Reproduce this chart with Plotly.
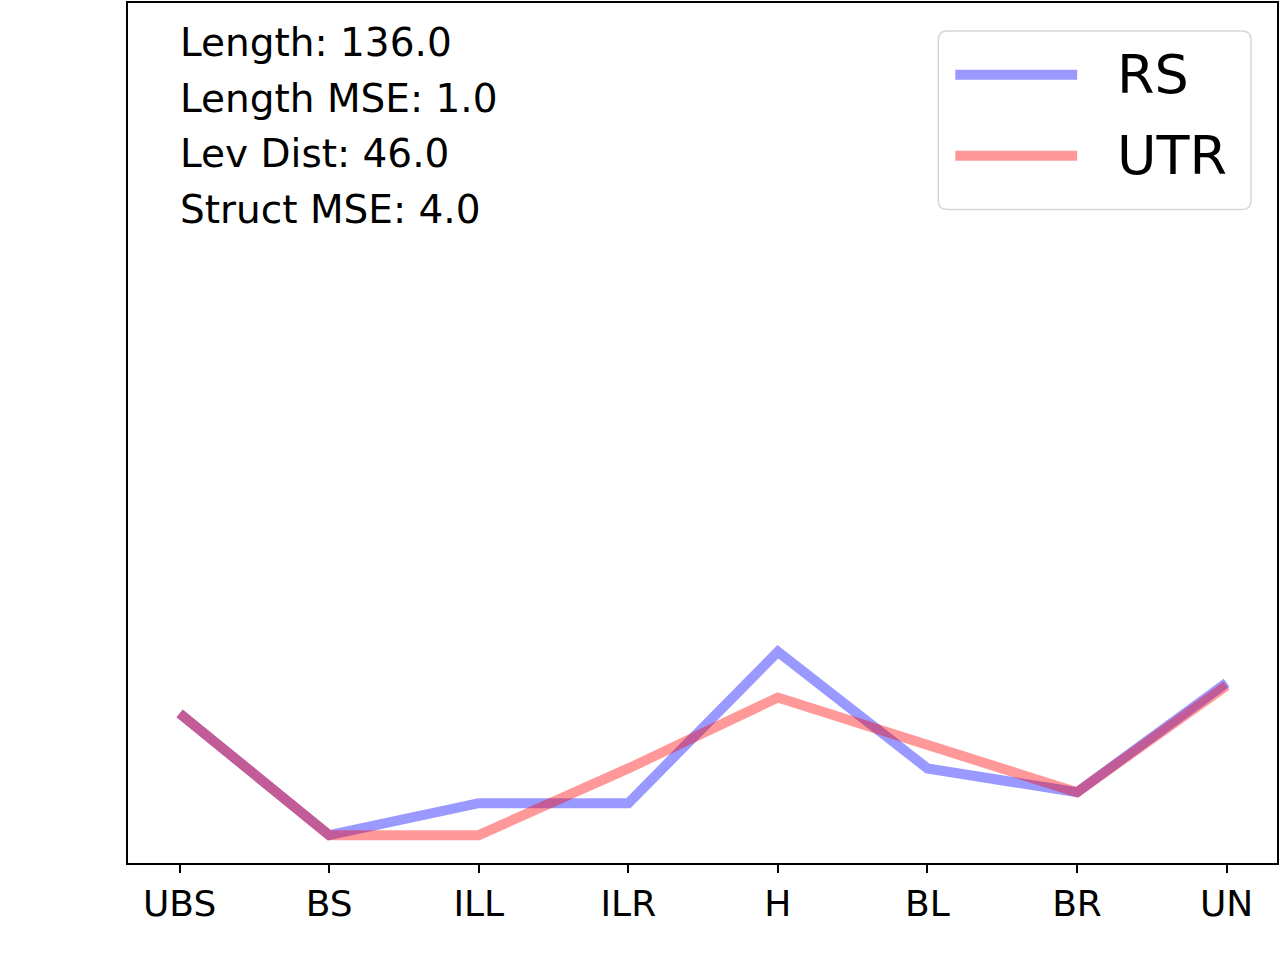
import plotly.graph_objects as go

categories = ["UBS", "BS", "ILL", "ILR", "H", "BL", "BR", "UN"]
rs_values = [0.174, 0.0324, 0.0695, 0.0695, 0.2457, 0.110, 0.0823, 0.2097]
utr_values = [0.174, 0.0324, 0.0324, 0.110, 0.1924, 0.1367, 0.0823, 0.2063]
series_names = ["RS", "UTR"]
stats_lines = ["Length: 136.0", "Length MSE: 1.0", "Lev Dist: 46.0", "Struct MSE: 4.0"]

W, H = 1280, 960
ML, MR, MT, MB = 128, 2, 1, 97
PW, PH = W - ML - MR, H - MT - MB

def px(x):
    return (x - ML) / PW

def py(y):
    return (H - MB - y) / PH

FONT = "DejaVu Sans"
blue = "rgba(0,0,255,0.4)"
red = "rgba(255,0,0,0.4)"

fig = go.Figure()
fig.add_trace(go.Scatter(x=categories, y=rs_values, mode="lines", name=series_names[0],
                         line=dict(color=blue, width=10), showlegend=False))
fig.add_trace(go.Scatter(x=categories, y=utr_values, mode="lines", name=series_names[1],
                         line=dict(color=red, width=10), showlegend=False))

# stats text
for i, t in enumerate(stats_lines):
    fig.add_annotation(x=px(178), y=py(41 + i * 55.5), xref="paper", yref="paper",
                       text=t, showarrow=False, xanchor="left", yanchor="middle",
                       font=dict(family=FONT, size=39, color="black"))

# legend box (rounded)
x0, x1, y0, y1, r = 939, 1252, 29, 208, 9
path = (f"M{px(x0 + r)},{py(y0)} L{px(x1 - r)},{py(y0)} "
        f"Q{px(x1)},{py(y0)} {px(x1)},{py(y0 + r)} "
        f"L{px(x1)},{py(y1 - r)} Q{px(x1)},{py(y1)} {px(x1 - r)},{py(y1)} "
        f"L{px(x0 + r)},{py(y1)} Q{px(x0)},{py(y1)} {px(x0)},{py(y1 - r)} "
        f"L{px(x0)},{py(y0 + r)} Q{px(x0)},{py(y0)} {px(x0 + r)},{py(y0)} Z")
fig.add_shape(type="path", path=path, xref="paper", yref="paper",
              line=dict(color="#d6d6d6", width=1.5), fillcolor="rgba(255,255,255,0.8)")
for name, col, yy in [(series_names[0], blue, 73), (series_names[1], red, 154)]:
    fig.add_shape(type="line", x0=px(956), x1=px(1078), y0=py(yy), y1=py(yy),
                  xref="paper", yref="paper", line=dict(color=col, width=10))
    fig.add_annotation(x=px(1116), y=py(yy), xref="paper", yref="paper", text=name,
                       showarrow=False, xanchor="left", yanchor="middle",
                       font=dict(family=FONT, size=54, color="black"))

fig.update_layout(
    width=W, height=H,
    margin=dict(l=ML, r=MR, t=MT, b=MB),
    paper_bgcolor="white", plot_bgcolor="white",
    showlegend=False,
    xaxis=dict(type="category", range=[-0.345, 7.337], showgrid=False, zeroline=False,
               showline=True, mirror=True, linecolor="black", linewidth=1.5,
               ticks="outside", ticklen=8, tickwidth=1.5, tickcolor="black",
               tickfont=dict(family=FONT, size=36, color="black")),
    yaxis=dict(range=[0, 1], showgrid=False, zeroline=False, showticklabels=False,
               showline=True, mirror=True, linecolor="black", linewidth=1.5, ticks=""),
)

fig.write_html("out.html", config={"displayModeBar": False},
               post_script="document.body.style.margin='0';document.body.style.padding='0';")
